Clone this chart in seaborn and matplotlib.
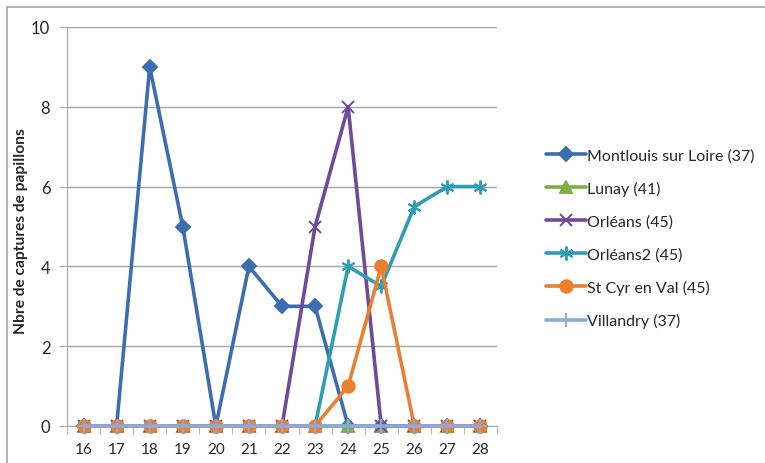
import pandas as pd
import matplotlib
matplotlib.use('Agg')
import matplotlib.pyplot as plt
import seaborn as sns

weeks = [16, 17, 18, 19, 20, 21, 22, 23, 24, 25, 26, 27, 28]
montlouis = [0, 0, 9, 5, 0, 4, 3, 3, 0, 0, 0, 0, 0]
lunay = [0, 0, 0, 0, 0, 0, 0, 0, 0, 0, 0, 0, 0]
orleans = [0, 0, 0, 0, 0, 0, 0, 5, 8, 0, 0, 0, 0]
orleans2 = [0, 0, 0, 0, 0, 0, 0, 0, 4, 3.5, 5.5, 6, 6]
st_cyr = [0, 0, 0, 0, 0, 0, 0, 0, 1, 4, 0, 0, 0]
villandry = [0, 0, 0, 0, 0, 0, 0, 0, 0, 0, 0, 0, 0]

series_names = ['Montlouis sur Loire (37)', 'Lunay (41)', 'Orléans (45)',
                'Orléans2 (45)', 'St Cyr en Val (45)', 'Villandry (37)']
series_values = [montlouis, lunay, orleans, orleans2, st_cyr, villandry]

rows = []
for name, vals in zip(series_names, series_values):
    for w, v in zip(weeks, vals):
        rows.append({'semaine': w, 'captures': v, 'site': name})
df = pd.DataFrame(rows)

sns.set_style('white')
plt.rcParams['font.family'] = ['Lato', 'DejaVu Sans']

colors = ['#3c6eaf', '#7fae45', '#6e4a98', '#2f9db5', '#e8802f', '#8eaadb']
markers = ['D', '^', 'x', (6, 2, 0), 'o', '+']
sizes = [7, 8, 9, 10, 9, 10]

fig = plt.figure(figsize=(7.65, 4.64), dpi=100)
# outer chart border
fig.patches.append(plt.Rectangle((7 / 765, -0.1), 1.2, 1.1 - 8 / 464,
                                 transform=fig.transFigure, fill=False,
                                 edgecolor='#a6a6a6', linewidth=1.2))
ax = fig.add_axes([67 / 765, 1 - 427 / 464, 430 / 765, 399 / 464])

for i, name in enumerate(series_names):
    sub = df[df['site'] == name]
    sns.lineplot(data=sub, x='semaine', y='captures', ax=ax, color=colors[i],
                 marker=markers[i], markersize=sizes[i], linewidth=2.6,
                 markeredgecolor=colors[i], markeredgewidth=1.4, label=name,
                 zorder=3 + i, clip_on=False)

ax.set_xlim(15.5, 28.5)
ax.set_ylim(0, 10)
ax.set_yticks([0, 2, 4, 6, 8, 10])
ax.set_xticks(weeks)
ax.set_xticks([w + 0.5 for w in [15] + weeks], minor=True)
ax.yaxis.grid(True, color='#a6a6a6', linewidth=1)
ax.set_axisbelow(True)
for s in ['top', 'right']:
    ax.spines[s].set_visible(False)
ax.spines['left'].set_color('#a6a6a6')
ax.spines['bottom'].set_color('#a6a6a6')
ax.tick_params(axis='y', which='major', left=True, length=6, color='#a6a6a6',
               labelsize=12, pad=6)
ax.tick_params(axis='x', which='major', bottom=False, labelsize=11, pad=8)
ax.tick_params(axis='x', which='minor', bottom=True, length=6, color='#a6a6a6')
ax.set_xlabel('')
ax.set_ylabel('Nbre de captures de papillons', fontsize=11.2, fontweight='bold')
ax.yaxis.set_label_coords(-0.09, 0.49)

leg = ax.legend(loc='center left', bbox_to_anchor=(1.08, 0.471), frameon=False,
                fontsize=11.5, handlelength=2.5, labelspacing=1.15,
                handletextpad=0.1)

fig.savefig('out.png', dpi=100)
